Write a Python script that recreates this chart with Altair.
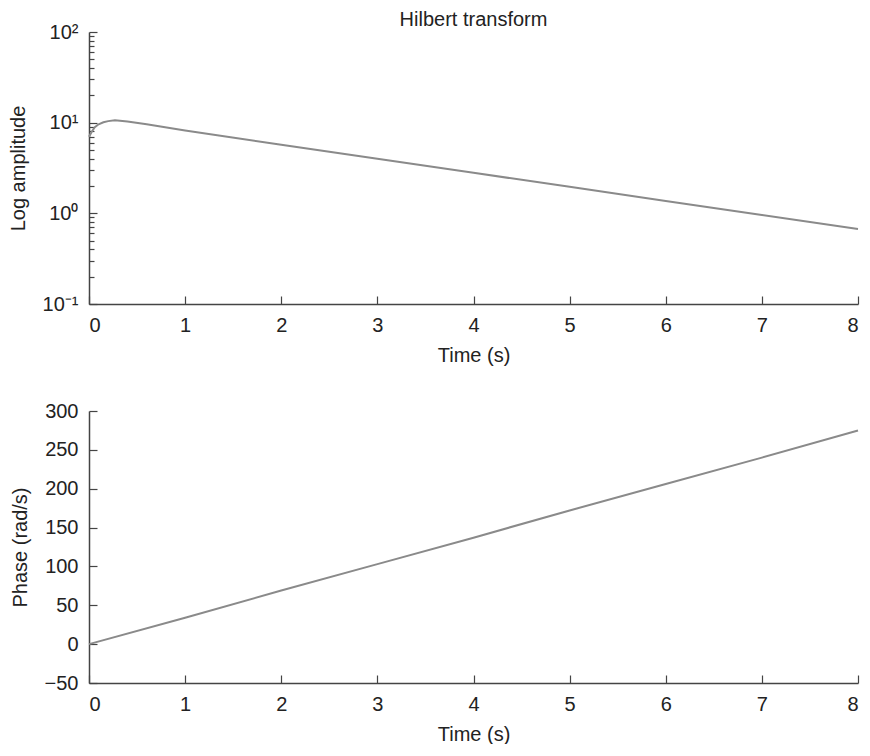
import altair as alt
import pandas as pd

chart_title = "Hilbert transform"

amp_time = [0, 0.03, 0.06, 0.1, 0.15, 0.2, 0.27, 0.4, 0.6, 1, 2, 3, 4, 5, 6, 7, 8]
amp_vals = [7.0, 8.0, 8.9, 9.6, 10.1, 10.4, 10.6, 10.3, 9.6, 8.2, 5.7, 4.0, 2.8, 1.96, 1.37, 0.96, 0.67]

phase_time = [0, 1, 2, 3, 4, 5, 6, 7, 8]
phase_vals = [0, 34, 69, 103, 137, 172, 206, 240, 275]

x_ticks = [0, 1, 2, 3, 4, 5, 6, 7, 8]
log_major = [0.1, 1, 10, 100]
log_minor = [0.2, 0.3, 0.4, 0.5, 0.6, 0.7, 0.8, 0.9,
             2, 3, 4, 5, 6, 7, 8, 9,
             20, 30, 40, 50, 60, 70, 80, 90]
phase_ticks = [-50, 0, 50, 100, 150, 200, 250, 300]

FONT = "Liberation Sans"
FS = 20
LINE = "#8a8a8a"
INK = "#222222"

df_amp = pd.DataFrame({"t": amp_time, "a": amp_vals})
df_ph = pd.DataFrame({"t": phase_time, "p": phase_vals})

major_test = "abs(log(datum.value)/LN10 - round(log(datum.value)/LN10)) < 0.000001"
log_label = ("datum.value == 100 ? '10²' : datum.value == 10 ? '10¹' : "
             "datum.value == 1 ? '10⁰' : datum.value == 0.1 ? '10⁻¹' : ''")


def x_axis():
    return alt.Axis(values=x_ticks, title="Time (s)", tickSize={"expr": "-8"},
                    labelPadding=19, titlePadding=10, format="d")


x_scale = alt.Scale(domain=[0, 8], nice=False, zero=False)

top = alt.Chart(df_amp).mark_line(color=LINE, strokeWidth=2).encode(
    x=alt.X("t:Q", scale=x_scale, axis=x_axis()),
    y=alt.Y("a:Q",
            scale=alt.Scale(type="log", domain=[0.1, 100], nice=False),
            axis=alt.Axis(values=log_major + log_minor, labelExpr=log_label,
                          tickSize={"condition": {"test": major_test, "value": -8}, "value": -5},
                          title="Log amplitude", labelPadding=19, titlePadding=14)),
).properties(width=769, height=272,
             title=alt.TitleParams(chart_title, font=FONT, fontSize=FS, fontWeight="normal",
                                   color=INK, anchor="middle", offset=-8))

bottom = alt.Chart(df_ph).mark_line(color=LINE, strokeWidth=2).encode(
    x=alt.X("t:Q", scale=x_scale, axis=x_axis()),
    y=alt.Y("p:Q", scale=alt.Scale(domain=[-50, 300], nice=False, zero=False),
            axis=alt.Axis(values=phase_ticks, title="Phase (rad/s)", tickSize={"expr": "-8"},
                          labelPadding=19, titlePadding=14)),
).properties(width=769, height=272)

chart = alt.vconcat(top, bottom, spacing=36).properties(
    padding={"left": 0, "top": 2, "right": 0, "bottom": 0}
).configure_axis(
    labelFont=FONT, labelFontSize=FS, labelColor=INK,
    titleFont=FONT, titleFontSize=FS, titleFontWeight="normal", titleColor=INK,
    domainColor="#444444", domainWidth=1.5, tickColor="#444444", tickWidth=1.2,
    grid=False,
).configure_view(stroke=None)

chart.save("out.html", embed_options={"renderer": "svg", "actions": False})
